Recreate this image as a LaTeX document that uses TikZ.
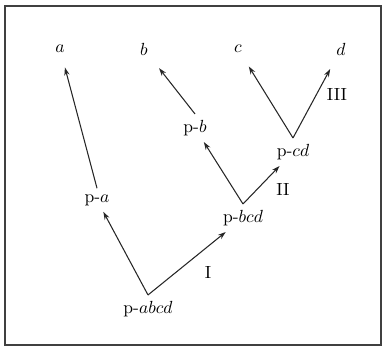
\documentclass[tikz,border=0pt]{standalone}
\usetikzlibrary{arrows.meta}
\begin{document}
\begin{tikzpicture}[x=1cm,y=1cm,
  arr/.style={-{Stealth[length=4.5pt,width=3pt]},line width=0.6pt,black!85},
  leafarr/.style={arr,shorten >=5pt}]
\useasboundingbox (0,0) rectangle (7.70,7.08);
\draw[black!75,line width=0.7pt] (0.10,0.18) rectangle (7.62,6.96);
% leaves
\node (a) at (1.20,6.10) {$a$};
\node (b) at (2.88,6.10) {$b$};
\node (c) at (4.76,6.10) {$c$};
\node (d) at (6.82,6.10) {$d$};
% inner nodes
\node (pa) at (1.94,3.08) {p-$a$};
\node (pb) at (3.90,4.52) {p-$b$};
\node (pcd) at (5.86,4.04) {p-$cd$};
\node (pbcd) at (4.86,2.72) {p-$bcd$};
\node (pabcd) at (2.96,0.90) {p-$abcd$};
% branches
\draw[arr] (pabcd.north) -- (pa);
\draw[arr] (pabcd.north) -- (pbcd);
\draw[arr] (pbcd.north) -- (pb);
\draw[arr] (pbcd.north) -- (pcd);
\draw[leafarr] (pa.north) -- (a);
\draw[leafarr] (pb.north) -- (b);
\draw[leafarr] (pcd.north) -- (c);
\draw[leafarr] (pcd.north) -- (d);
% branch numbers
\node (lI) at (4.16,1.62) {I};
\node (lII) at (5.66,3.28) {II};
\node (lIII) at (6.74,5.18) {III};
\end{tikzpicture}
\end{document}
